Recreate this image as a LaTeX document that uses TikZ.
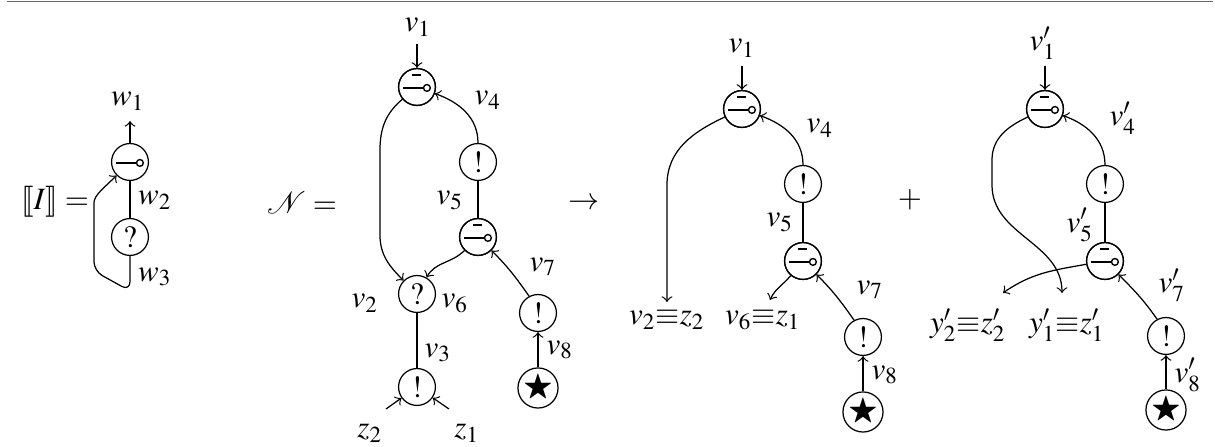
\documentclass[tikz,border=0pt]{standalone}
\usepackage{amsmath,amssymb}
\usepackage{mathptmx}
\usepackage{stmaryrd}
\usepackage{mathrsfs}
\tikzset{
  gate/.style={circle, draw, minimum size=11.9pt, inner sep=0pt, line width=0.4pt},
  lolli/.style={gate, path picture={
      \coordinate (pc) at (path picture bounding box.center);
      \draw[line width=0.45pt] ([xshift=-4.5pt,yshift=-0.3pt]pc) -- ([xshift=2.1pt,yshift=-0.3pt]pc);
      \draw[line width=0.45pt] ([xshift=3.2pt,yshift=-0.3pt]pc) circle[radius=1.1pt];}},
  lamgate/.style={lolli, append after command={}, postaction={}},
  barpic/.style={path picture={
      \coordinate (pb) at (path picture bounding box.center);
      \draw[line width=0.6pt] ([xshift=-1.6pt,yshift=3.9pt]pb) -- ([xshift=1.3pt,yshift=3.9pt]pb);}},
  lbl/.style={inner sep=0pt},
  conn/.style={line width=0.4pt},
  arr/.style={conn, ->},
}
\begin{document}
\begin{tikzpicture}[x=0.3226pt,y=-0.3226pt]
\useasboundingbox (0,0) rectangle (1215,447);
\draw[black!60, line width=0.6pt] (7,1.5) -- (1213,1.5);

% ---------- diagram 1 ----------
\node[lbl] (I) at (55,202) {$\llbracket I\rrbracket=$};
\node[lolli] (a1) at (130,162) {};
\node[gate] (q1) at (130,237) {$?$};
\coordinate (w1e) at (130,121);
\node[lbl] (w1) at (128,101) {$w_1$};
\node[lbl] (w2) at (155,200) {$w_2$};
\node[lbl] (w3) at (155,277) {$w_3$};
\draw[arr] (a1) -- (w1e);
\draw[conn] (a1) -- (q1);
\coordinate (l1) at (130,291);
\coordinate (l2) at (94,271);
\coordinate (l3) at (94,212);
\draw[arr, rounded corners=3pt] (q1.south) -- (l1) -- (l2) -- (l3) to[out=90,in=225] (a1.225);

% ---------- diagram 2 ----------
\node[lbl] (N) at (302,203) {$\mathscr{N}=$};
\node[lolli] (b1) at (417,87) {};
\node[gate, barpic] (b1bar) at (b1) {};
\node[gate] (b4) at (478,162) {$!$};
\node[lolli] (b5) at (478,237) {};
\node[gate, barpic] (b5bar) at (b5) {};
\node[gate] (b2) at (417,294) {$?$};
\node[gate] (b3) at (417,387) {$!$};
\node[gate] (b7) at (538,313) {$!$};
\node[gate] (b8) at (538,388) {$\bigstar$};
\coordinate (bv1) at (417,44);
\node[lbl] (bl1) at (418,27) {$v_1$};
\node[lbl] (bl4) at (488,100) {$v_4$};
\node[lbl] (bl5) at (450,200) {$v_5$};
\node[lbl] (bl2) at (365,303) {$v_2$};
\node[lbl] (bl6) at (455,303) {$v_6$};
\node[lbl] (bl3) at (438,353) {$v_3$};
\node[lbl] (bl7) at (543,267) {$v_7$};
\node[lbl] (bl8) at (560,350) {$v_8$};
\node[lbl] (bz2) at (370,433) {$z_2$};
\node[lbl] (bz1) at (467,433) {$z_1$};
\coordinate (bz2s) at (386,409);
\coordinate (bz1s) at (449,409);
\coordinate (bk1) at (380,150);
\coordinate (bk2) at (380,235);
\draw[arr] (bv1) -- (b1);
\draw[arr] (b4) to[out=90,in=-20] (b1);
\draw[conn] (b4) -- (b5);
\draw[arr] (b1.220) to[out=220,in=90] (bk1) -- (bk2) to[out=-90,in=135] (b2.135);
\draw[arr] (b5.225) to[out=225,in=60] (b2.60);
\draw[conn] (b2) -- (b3);
\draw[arr] (bz2s) -- (b3);
\draw[arr] (bz1s) -- (b3);
\draw[arr] (b7.118) to[out=125,in=-45] (b5.-45);
\draw[arr] (b8) -- (b7);

\node[lbl] (to) at (584,204) {$\rightarrow$};

% ---------- diagram 3 ----------
\node[lolli] (c1) at (742,109) {};
\node[gate, barpic] (c1bar) at (c1) {};
\node[gate] (c4) at (803,184) {$!$};
\node[lolli] (c5) at (803,261) {};
\node[gate, barpic] (c5bar) at (c5) {};
\node[gate] (c7) at (863,337) {$!$};
\node[gate] (c8) at (863,412) {$\bigstar$};
\coordinate (cv1) at (742,66);
\node[lbl] (cl1) at (742,48) {$v_1$};
\node[lbl] (cl4) at (820,128) {$v_4$};
\node[lbl] (cl5) at (780,222) {$v_5$};
\node[lbl] (cl7) at (870,290) {$v_7$};
\node[lbl] (cl8) at (885,375) {$v_8$};
\node[lbl] (cz2) at (667,320) {$v_2{\equiv}z_2$};
\node[lbl] (cz1) at (763,320) {$v_6{\equiv}z_1$};
\coordinate (ck1) at (667,185);
\coordinate (ce2) at (667,302);
\coordinate (ce1) at (770,300);
\draw[arr] (cv1) -- (c1);
\draw[arr] (c4) to[out=90,in=-20] (c1);
\draw[conn] (c4) -- (c5);
\draw[arr] (c1.205) to[out=205,in=90] (ck1) -- (ce2);
\draw[arr] (c5.230) to[out=230,in=65] (ce1);
\draw[arr] (c7.118) to[out=125,in=-45] (c5.-45);
\draw[arr] (c8) -- (c7);

\node[lbl] (plus) at (910,200) {$+$};

% ---------- diagram 4 ----------
\node[lolli] (d1) at (1045,109) {};
\node[gate, barpic] (d1bar) at (d1) {};
\node[gate] (d4) at (1105,184) {$!$};
\node[lolli] (d5) at (1105,261) {};
\node[gate, barpic] (d5bar) at (d5) {};
\node[gate] (d7) at (1166,336) {$!$};
\node[gate] (d8) at (1166,410) {$\bigstar$};
\coordinate (dv1) at (1045,66);
\node[lbl] (dl1) at (1043,43) {$v'_1$};
\node[lbl] (dl4) at (1123,118) {$v'_4$};
\node[lbl] (dl5) at (1080,225) {$v'_5$};
\node[lbl] (dl7) at (1172,285) {$v'_7$};
\node[lbl] (dl8) at (1188,375) {$v'_8$};
\node[lbl] (dz2) at (968,325) {$y'_2{\equiv}z'_2$};
\node[lbl] (dz1) at (1067,325) {$y'_1{\equiv}z'_1$};
\coordinate (dk1) at (992,160);
\coordinate (dk2) at (992,185);
\coordinate (de1) at (1062,293);
\coordinate (de2) at (1003,293);
\draw[arr] (dv1) -- (d1);
\draw[arr] (d4) to[out=90,in=-20] (d1);
\draw[conn] (d4) -- (d5);
\draw[arr] (d1.205) to[out=205,in=90] (dk1) -- (dk2) to[out=-90,in=90] (de1);
\draw[arr] (d5.190) to[out=190,in=35] (de2);
\draw[arr] (d7.118) to[out=125,in=-45] (d5.-45);
\draw[arr] (d8) -- (d7);
\end{tikzpicture}
\end{document}
